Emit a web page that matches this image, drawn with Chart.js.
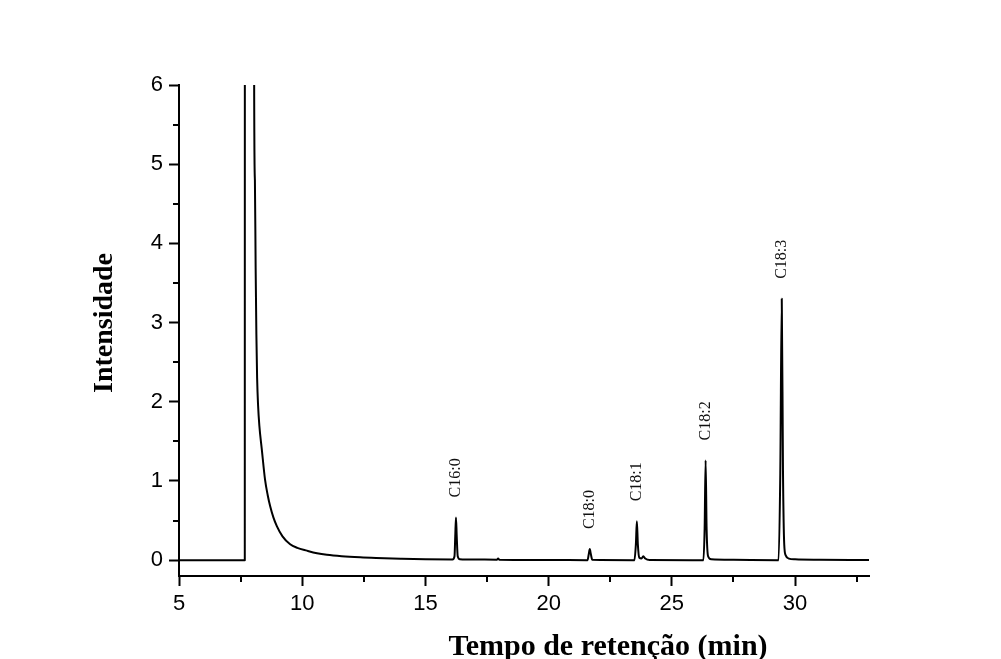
<!DOCTYPE html>
<html>
<head>
<meta charset="utf-8">
<script src="https://cdn.jsdelivr.net/npm/chart.js@4.4.0/dist/chart.umd.min.js"></script>
<style>
html, body { margin: 0; padding: 0; background: #fff; }
#wrap { width: 1001px; height: 659px; position: relative; }
</style>
</head>
<body>
<div id="wrap"><canvas id="chart-1"></canvas></div>
<script>
// chromatogram (min, intensity)
const retentionTime = [
	5.00, 7.67, 7.68, 8.02, 8.05, 8.08, 8.11, 8.14, 8.17, 8.21, 8.26, 8.36, 8.49, 8.60, 8.70, 8.83, 8.97,
	9.20, 9.51, 9.80, 10.19, 10.60, 11.00, 11.60, 12.35, 13.00, 14.00, 15.00,
	16.10, 16.18, 16.21, 16.24, 16.27, 16.31, 16.40, 17.00, 17.90, 17.95, 18.00, 20.00,
	21.58, 21.63, 21.67, 21.71, 21.77,
	23.48, 23.54, 23.58, 23.62, 23.68, 23.77, 23.84, 23.92, 24.10,
	26.28, 26.33, 26.37, 26.41, 26.47, 26.60, 27.50,
	29.33, 29.40, 29.46, 29.51, 29.56, 29.62, 29.75, 30.00, 31.00, 33.00
];
const intensity = [
	0.000, 0.000, 30.0, 30.0, 6.00, 4.80, 3.70, 2.85, 2.30, 1.95, 1.70, 1.40, 1.02, 0.82, 0.68, 0.54, 0.43,
	0.30, 0.20, 0.155, 0.12, 0.088, 0.068, 0.050, 0.036, 0.028, 0.019, 0.012,
	0.009, 0.05, 0.30, 0.54, 0.30, 0.05, 0.012, 0.008, 0.006, 0.020, 0.005, 0.002,
	0.000, 0.08, 0.14, 0.08, 0.005,
	0.000, 0.20, 0.49, 0.20, 0.03, 0.02, 0.05, 0.02, 0.002,
	0.000, 0.40, 1.26, 0.40, 0.05, 0.01, 0.004,
	0.000, 1.10, 3.30, 1.10, 0.20, 0.06, 0.02, 0.01, 0.005, 0.003
];

const peakNames = ["C16:0", "C18:0", "C18:1", "C18:2", "C18:3"];
const peakTimes = [16.24, 21.67, 23.58, 26.37, 29.46];
const peakHeights = [0.54, 0.14, 0.49, 1.26, 3.30];

const xTickLabels = [5, 10, 15, 20, 25, 30];
const yTickLabels = [0, 1, 2, 3, 4, 5, 6];
const xTitle = "Tempo de retenção (min)";
const yTitle = "Intensidade";

const points = retentionTime.map((t, i) => ({x: t, y: intensity[i]}));

const tickFont = {family: "'Liberation Sans', Arial, sans-serif", size: 22};
const serif = "'Liberation Serif', 'Times New Roman', serif";

// tick values come out as floats, so compare rounded
const isMajor = (list, v) => list.includes(Math.round(v * 1000) / 1000);

// ticks every half step between the labelled ones
function halfSteps(list) {
	const out = [];
	list.forEach((v, i) => {
		out.push({value: v});
		if (i < list.length - 1) out.push({value: (v + list[i + 1]) / 2});
	});
	return out;
}

// minor ticks are shorter than the major ones
const minorTicks = {
	id: "minorTicks",
	afterDraw(chart) {
		const ctx = chart.ctx;
		const xs = chart.scales.x, ys = chart.scales.y;
		ctx.save();
		ctx.strokeStyle = "#000";
		ctx.lineWidth = 2;
		ctx.beginPath();
		for (const t of xs.ticks) {
			if (isMajor(xTickLabels, t.value)) continue;
			const px = Math.round(xs.getPixelForValue(t.value));
			ctx.moveTo(px, xs.top);
			ctx.lineTo(px, xs.top + 6);
		}
		for (const t of ys.ticks) {
			if (isMajor(yTickLabels, t.value)) continue;
			const py = Math.round(ys.getPixelForValue(t.value));
			ctx.moveTo(ys.right, py);
			ctx.lineTo(ys.right - 6, py);
		}
		ctx.stroke();
		ctx.restore();
	}
};

const peakLabels = {
	id: "peakLabels",
	afterDatasetsDraw(chart) {
		const ctx = chart.ctx;
		const xs = chart.scales.x, ys = chart.scales.y;
		ctx.save();
		ctx.fillStyle = "#111";
		ctx.font = "16px " + serif;
		ctx.textAlign = "left";
		ctx.textBaseline = "middle";
		peakNames.forEach((name, i) => {
			const px = xs.getPixelForValue(peakTimes[i]);
			const py = ys.getPixelForValue(peakHeights[i]) - 20;
			ctx.save();
			ctx.translate(px, py);
			ctx.rotate(-Math.PI / 2);
			ctx.fillText(name, 0, 0);
			ctx.restore();
		});
		ctx.restore();
	}
};

const axisTitles = {
	id: "axisTitles",
	afterDraw(chart) {
		const ctx = chart.ctx;
		ctx.save();
		ctx.fillStyle = "#000";
		ctx.textAlign = "center";
		ctx.textBaseline = "alphabetic";
		ctx.font = "bold 30px " + serif;
		ctx.fillText(xTitle, 608, 655);
		ctx.font = "bold 28px " + serif;
		ctx.translate(112, 323);
		ctx.rotate(-Math.PI / 2);
		ctx.fillText(yTitle, 0, 0);
		ctx.restore();
	}
};

new Chart("chart-1", {
	type: "line",
	data: {
		datasets: [{
			data: points,
			borderColor: "#000",
			borderWidth: 2,
			borderJoinStyle: "round",
			pointRadius: 0,
			cubicInterpolationMode: "monotone",//avoids the pixel-column fast path
			fill: false
		}]
	},
	options: {
		responsive: true,
		maintainAspectRatio: false,
		animation: false,
		layout: {padding: {left: 0, right: 132, top: 85, bottom: 0}},
		plugins: {legend: {display: false}, tooltip: {enabled: false}},
		scales: {
			x: {
				type: "linear",
				min: 5,
				max: 33,
				afterFit: (scale) => { scale.height = 83; },
				afterBuildTicks: (scale) => {
					scale.ticks = halfSteps(xTickLabels);
					scale.ticks.push({value: 32.5});
				},
				ticks: {
					autoSkip: false,
					maxRotation: 0,
					padding: 5,
					color: "#000",
					font: tickFont,
					callback: (v) => isMajor(xTickLabels, v) ? String(Math.round(v)) : ""
				},
				grid: {
					drawOnChartArea: false,
					tickLength: 10,
					tickWidth: 2,
					tickColor: (c) => c.tick && isMajor(xTickLabels, c.tick.value) ? "#000" : "rgba(0,0,0,0)"
				},
				border: {display: true, color: "#000", width: 2}
			},
			y: {
				min: -0.2,
				max: 6,
				afterFit: (scale) => { scale.width = 179; },
				afterBuildTicks: (scale) => { scale.ticks = halfSteps(yTickLabels); },
				ticks: {
					autoSkip: false,
					padding: 6,
					color: "#000",
					font: tickFont,
					callback: (v) => isMajor(yTickLabels, v) ? String(Math.round(v)) : ""
				},
				grid: {
					drawOnChartArea: false,
					tickLength: 10,
					tickWidth: 2,
					tickColor: (c) => c.tick && isMajor(yTickLabels, c.tick.value) ? "#000" : "rgba(0,0,0,0)"
				},
				border: {display: true, color: "#000", width: 2}
			}
		}
	},
	plugins: [minorTicks, peakLabels, axisTitles]
});
</script>
</body>
</html>
